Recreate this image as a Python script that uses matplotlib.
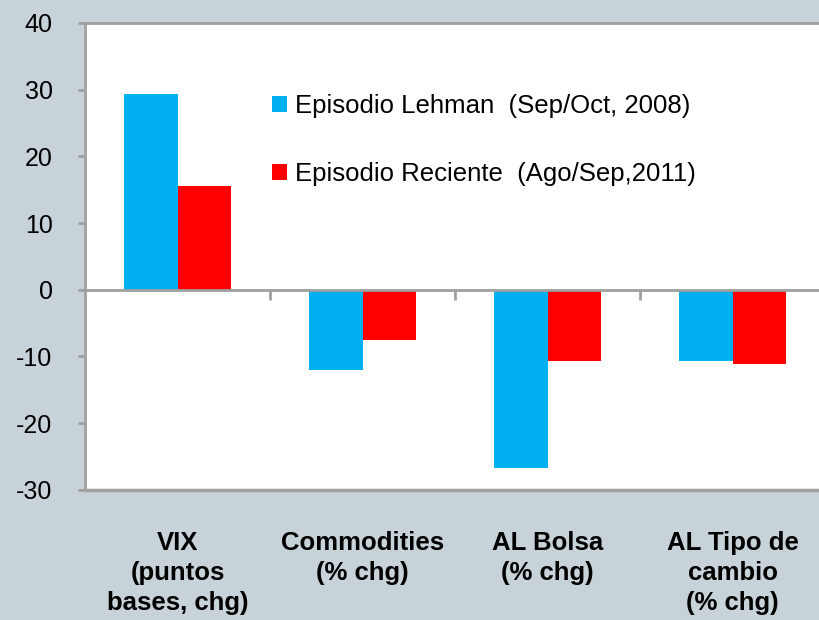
import matplotlib
matplotlib.use("Agg")
import matplotlib.pyplot as plt
import numpy as np

categories = ["VIX\n(puntos\nbases, chg)", "Commodities\n(% chg)", "AL Bolsa\n(% chg)", "AL Tipo de\ncambio\n(% chg)"]
lehman = [29.3, -12.0, -26.7, -10.7]
reciente = [15.5, -7.5, -10.7, -11.2]
series_labels = ["Episodio Lehman  (Sep/Oct, 2008)", "Episodio Reciente  (Ago/Sep,2011)"]
yticks = [-30, -20, -10, 0, 10, 20, 30, 40]

BG = "#C8D2D9"
GRID = "#A0A0A0"

plt.rcParams["font.family"] = ["Liberation Sans", "DejaVu Sans"]

fig = plt.figure(figsize=(8.19, 6.2), dpi=100, facecolor=BG)
ax = fig.add_axes((0.104, 0.21, 0.9035, 0.753))

x = np.arange(len(categories))
w = 0.29
ax.bar(x - w / 2, lehman, w, color="#00B0F0", label=series_labels[0], zorder=2)
ax.bar(x + w / 2, reciente, w, color="#FF0000", label=series_labels[1], zorder=2)

ax.set_xlim(-0.5, len(categories) - 0.5)
ax.set_ylim(-30, 40)
ax.set_yticks(yticks)
ax.set_yticklabels([str(v) for v in yticks], fontsize=18)
ax.tick_params(axis="y", direction="out", length=5, width=2, color=GRID, pad=18.5)

# zero line carries the category tick marks
ax.spines["bottom"].set_position(("data", 0))
ax.set_xticks(x[:-1] + 0.5)
ax.set_xticklabels([])
ax.tick_params(axis="x", direction="out", length=7, width=2, color=GRID)
for side in ["bottom", "left", "top"]:
    ax.spines[side].set_color(GRID)
    ax.spines[side].set_linewidth(2)
ax.spines["right"].set_visible(False)
ax.plot([0, 1], [0, 0], transform=ax.transAxes, color=GRID, lw=2.5, clip_on=False, zorder=3)

for xi, lab in zip(x, categories):
    ax.text(xi, -0.088, lab, transform=ax.get_xaxis_transform(), ha="center", va="top",
            fontsize=18.5, fontweight="bold", linespacing=1.32)

leg = ax.legend(loc="upper left", bbox_to_anchor=(0.238, 0.87), frameon=False, fontsize=18.5,
                handlelength=0.6, handleheight=0.6, handletextpad=0.3, labelspacing=1.72,
                borderaxespad=0)

fig.savefig("out.png", dpi=100, facecolor=BG)
